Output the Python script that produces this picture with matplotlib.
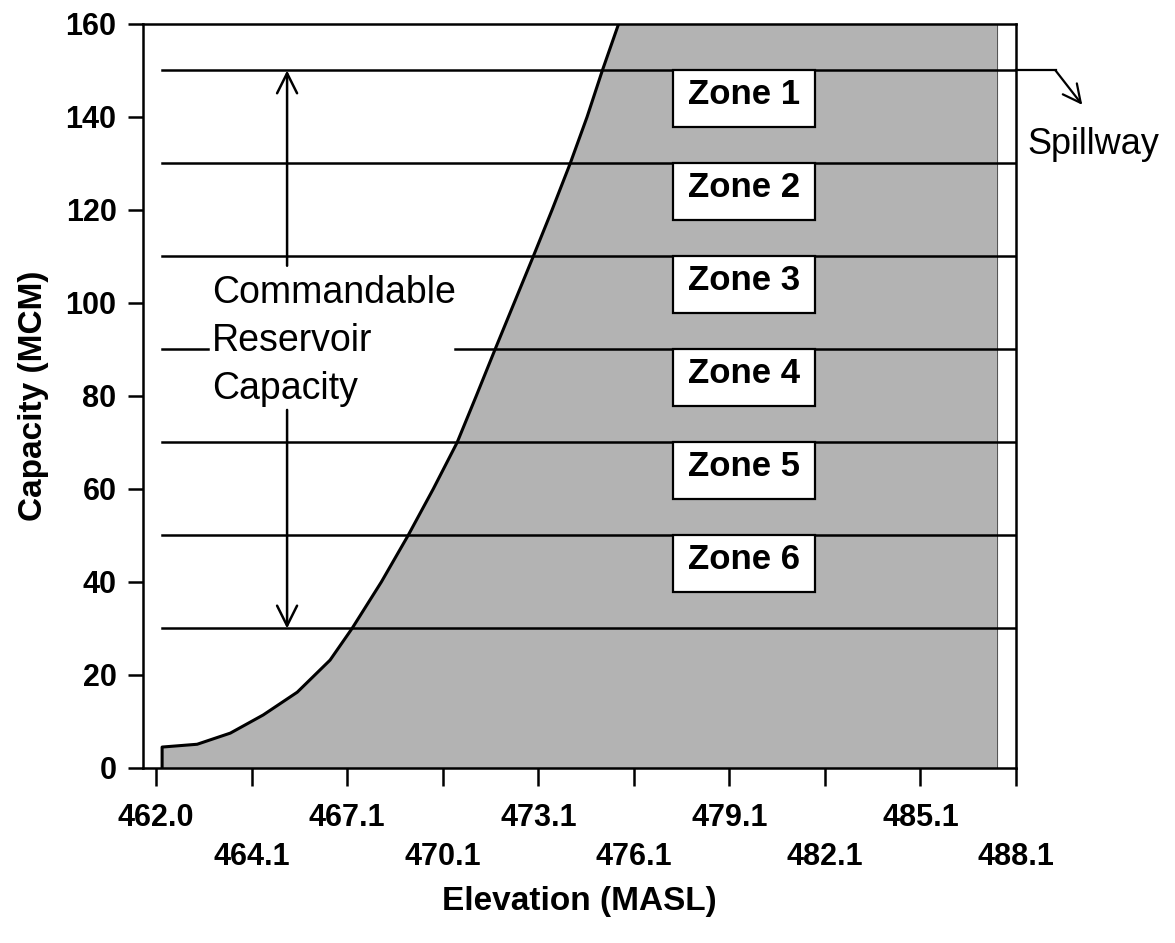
import numpy as np
import matplotlib
matplotlib.use("Agg")
import matplotlib.pyplot as plt
from matplotlib.patches import Rectangle

#================================
#   DATA
#================================
# tick positions on the elevation axis (evenly spaced on the drawing)
tick_vals = [462.0, 464.1, 467.1, 470.1, 473.1, 476.1, 479.1, 482.1, 485.1, 488.1]
tick_labels = ["462.0", "464.1", "467.1", "470.1", "473.1",
               "476.1", "479.1", "482.1", "485.1", "488.1"]

# elevation - capacity curve
elev = [462.13, 462.90, 463.63, 464.46, 465.53, 466.56, 467.25, 468.17,
        469.01, 469.80, 470.55, 471.15, 471.74, 472.34, 472.94, 473.53,
        474.10, 474.63, 475.11, 475.62]
cap = [4.5, 5.1, 7.5, 11.4, 16.3, 23.2, 30, 40,
       50, 60, 70, 80, 90, 100, 110, 120,
       130, 140, 150, 160]

# zone boundaries (MCM)
levels = [150, 130, 110, 90, 70, 50, 30]
zones = ["Zone 1", "Zone 2", "Zone 3", "Zone 4", "Zone 5", "Zone 6"]

# commandable capacity arrow
cmd_top = 150
cmd_bot = 30
spill_level = 150

#================================
#   FIGURE OPTIONS
#================================
plt.rcParams['font.family'] = ['Liberation Sans', 'DejaVu Sans']
plt.rcParams['axes.linewidth'] = 1.8

gray = '#b3b3b3'
lw = 1.8

def fwd(x):
    x = np.asarray(x, dtype=float)
    return np.where(x < 464.1, (x - 462.0) / 2.1, 1 + (x - 464.1) / 3.0)

def inv(i):
    i = np.asarray(i, dtype=float)
    return np.where(i < 1, 462.0 + 2.1 * i, 464.1 + 3.0 * (i - 1))

fig = plt.figure(figsize=(11.75, 9.43), dpi=100)
ax = fig.add_axes([0.1217, 0.1856, 0.743, 0.789])
ax.set_xscale('function', functions=(fwd, inv))

x0 = elev[0]
x_edge = 487.5
x_right = 488.1
ax.set_xlim(461.71, x_right)
ax.set_ylim(0, 160)

# shaded reservoir area
px = [x0] + elev + [x_edge, x_edge]
py = [0] + cap + [160, 0]
ax.fill(px, py, color=gray, lw=0, zorder=1)
ax.plot([x_edge, x_edge], [0, 160], color='#555555', lw=0.8, zorder=2)
ax.plot([x0] + elev, [0] + cap, color='k', lw=2.2, zorder=4,
        solid_joinstyle='round')

# zone lines
for lv in levels:
    if lv == 90:
        ax.plot([x0, 463.14], [lv, lv], color='k', lw=lw, zorder=3)
        ax.plot([470.49, x_right], [lv, lv], color='k', lw=lw, zorder=3)
    else:
        ax.plot([x0, x_right], [lv, lv], color='k', lw=lw, zorder=3)

# zone boxes
box_l, box_r, box_h = 477.33, 481.79, 12.2
for i, z in enumerate(zones):
    top = levels[i]
    ax.add_patch(Rectangle((box_l, top - box_h), box_r - box_l, box_h,
                           facecolor='white', edgecolor='k', lw=1.6, zorder=5))
    ax.text(479.55, top - box_h / 2 + 0.9, z, ha='center', va='center',
            fontsize=25, fontweight='bold', zorder=6)

# commandable capacity arrows
xa = 465.21
arw = dict(arrowstyle='->', lw=1.8, color='k', mutation_scale=36,
           shrinkA=0, shrinkB=0)
ax.annotate("", xy=(xa, cmd_top), xytext=(xa, 108), arrowprops=arw, zorder=4)
ax.annotate("", xy=(xa, cmd_bot), xytext=(xa, 77), arrowprops=arw, zorder=4)
ax.text(463.23, 91.8, "Commandable\nReservoir\nCapacity", ha='left',
        va='center', fontsize=27, linespacing=1.42, zorder=6)

# spillway
ax.plot([x_right, 489.34], [spill_level, spill_level], color='k', lw=1.6,
        clip_on=False)
ax.annotate("", xy=(490.18, 142.6), xytext=(489.34, spill_level),
            arrowprops=dict(arw, lw=1.6, mutation_scale=32),
            annotation_clip=False)
ax.text(488.45, 134, "Spillway", ha='left', va='center', fontsize=26)

# axes
ax.set_xticks(tick_vals)
ax.set_xticklabels([t if i % 2 == 0 else "\n" + t for i, t in enumerate(tick_labels)])
ax.set_yticks(range(0, 161, 20))
ax.tick_params(axis='x', direction='out', length=13, width=1.8, labelsize=22, pad=12)
ax.tick_params(axis='y', direction='out', length=11, width=1.8, labelsize=22, pad=8)
ax.minorticks_off()
for t in ax.get_xticklabels() + ax.get_yticklabels():
    t.set_fontweight('bold')
for t in ax.get_xticklabels():
    t.set_linespacing(1.4)

ax.set_xlabel("Elevation (MASL)", fontsize=24, fontweight='bold', labelpad=10)
ax.set_ylabel("Capacity (MCM)", fontsize=24, fontweight='bold', labelpad=12)

fig.savefig("out.png", dpi=100)
